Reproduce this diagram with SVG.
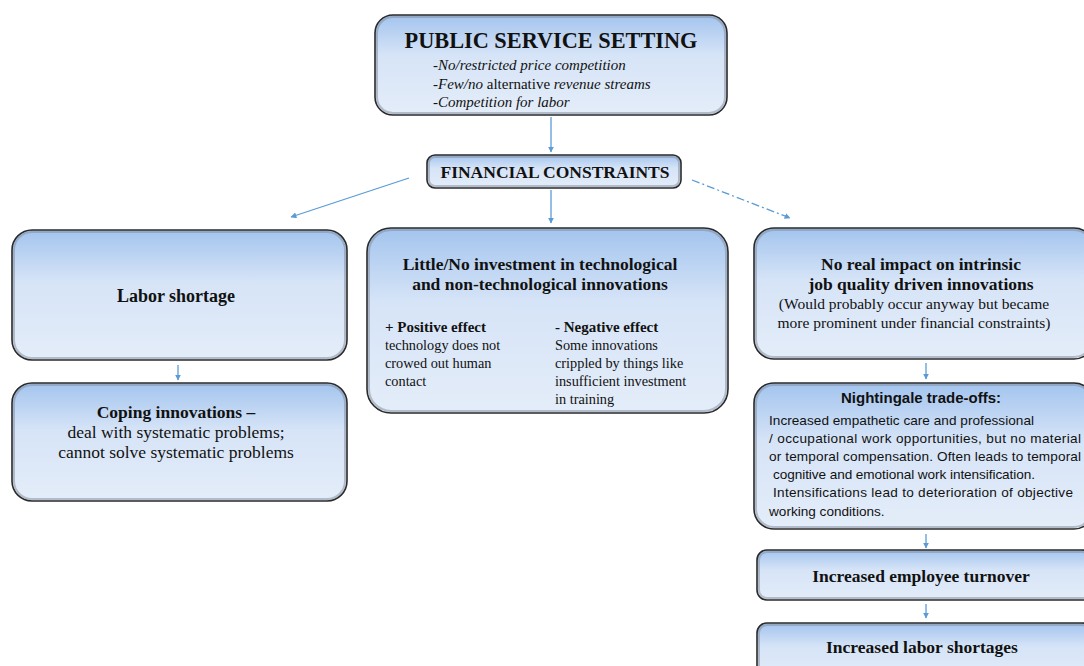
<svg xmlns="http://www.w3.org/2000/svg" width="1084" height="666" viewBox="0 0 1084 666">
<defs>
<linearGradient id="g" x1="0" y1="0" x2="0" y2="1">
<stop offset="0" stop-color="#a3c4ee"/>
<stop offset="0.4" stop-color="#d6e4f7"/>
<stop offset="1" stop-color="#e4edf9"/>
</linearGradient>
<marker id="ah" viewBox="0 0 10 10" refX="9" refY="5" markerWidth="6" markerHeight="6" orient="auto" markerUnits="userSpaceOnUse">
<path d="M0,0 L10,5 L0,10 z" fill="#5b9bd5"/>
</marker>
</defs>
<style>
.box{fill:url(#g);stroke:#2a2a2a;stroke-width:1.6}
.inner{fill:none;stroke:#7f8a99;stroke-width:2;opacity:0.5}
.conn{stroke:#5b9bd5;stroke-width:1.3;fill:none;marker-end:url(#ah)}
.tb{font-family:"Liberation Serif",serif;font-weight:bold;fill:#111}
.tn{font-family:"Liberation Serif",serif;fill:#111}
.ti{font-family:"Liberation Serif",serif;font-style:italic;fill:#111}
.sb{font-family:"Liberation Sans",sans-serif;font-weight:bold;fill:#111}
.sn{font-family:"Liberation Sans",sans-serif;fill:#111;font-size:13.6px}
</style>
<rect width="1084" height="666" fill="#fff"/>

<g id="connectors">
<line class="conn" x1="551" y1="117" x2="551" y2="152"/>
<line class="conn" x1="409" y1="178" x2="291" y2="217"/>
<line class="conn" x1="551" y1="190" x2="551" y2="223"/>
<line class="conn" x1="692" y1="180" x2="790" y2="218" stroke-dasharray="8,3,2,3"/>
<line class="conn" x1="178" y1="365" x2="178" y2="380"/>
<line class="conn" x1="926" y1="363" x2="926" y2="379"/>
<line class="conn" x1="926" y1="534" x2="926" y2="548"/>
<line class="conn" x1="926" y1="604" x2="926" y2="618"/>
</g>

<g id="public-service">
<rect class="box" x="375" y="15" width="352" height="100" rx="18"/>
<rect class="inner" x="377" y="17" width="348" height="96" rx="16"/>
<text class="tb" x="551" y="48" font-size="22.3" text-anchor="middle">PUBLIC SERVICE SETTING</text>
<text class="ti" x="433" y="70" font-size="15">-No/restricted price competition</text>
<text class="ti" x="433" y="89" font-size="15">-Few/no <tspan font-style="normal">alternative</tspan>  revenue streams</text>
<text class="ti" x="433" y="107" font-size="15">-Competition for labor</text>
</g>

<g id="financial">
<rect class="box" x="427" y="155" width="254" height="33" rx="8"/>
<rect class="inner" x="429" y="157" width="250" height="29" rx="6"/>
<text class="tb" x="555" y="178" font-size="17.5" text-anchor="middle">FINANCIAL CONSTRAINTS</text>
</g>

<g id="labor-shortage">
<rect class="box" x="12" y="230" width="335" height="130" rx="20"/>
<rect class="inner" x="14" y="232" width="331" height="126" rx="18"/>
<text class="tb" x="176" y="302" font-size="18" text-anchor="middle">Labor shortage</text>
</g>

<g id="coping">
<rect class="box" x="12" y="383" width="335" height="118" rx="20"/>
<rect class="inner" x="14" y="385" width="331" height="114" rx="18"/>
<text class="tb" x="176" y="418" font-size="17.5" text-anchor="middle">Coping innovations –</text>
<text class="tn" x="176" y="438" font-size="17.5" text-anchor="middle">deal with systematic problems;</text>
<text class="tn" x="176" y="458" font-size="17.5" text-anchor="middle">cannot solve systematic problems</text>
</g>

<g id="investment">
<rect class="box" x="367" y="228" width="361" height="185" rx="24"/>
<rect class="inner" x="369" y="230" width="357" height="181" rx="22"/>
<text class="tb" x="540" y="270" font-size="17.5" text-anchor="middle">Little/No investment in technological</text>
<text class="tb" x="540" y="290" font-size="17.5" text-anchor="middle">and non-technological innovations</text>
<text class="tb" x="385" y="332" font-size="15">+ Positive effect</text>
<text class="tn" x="385" y="350" font-size="14.3">technology  does not</text>
<text class="tn" x="385" y="368" font-size="14.3">crowed out human</text>
<text class="tn" x="385" y="386" font-size="14.3">contact</text>
<text class="tb" x="555" y="332" font-size="15">- Negative effect</text>
<text class="tn" x="555" y="350" font-size="14.3">Some innovations</text>
<text class="tn" x="555" y="368" font-size="14.3">crippled by things like</text>
<text class="tn" x="555" y="386" font-size="14.3">insufficient   investment</text>
<text class="tn" x="555" y="404" font-size="14.3">in training</text>
</g>

<g id="no-real-impact">
<rect class="box" x="754" y="228" width="340" height="131" rx="20"/>
<rect class="inner" x="756" y="230" width="336" height="127" rx="18"/>
<text class="tb" x="921" y="270" font-size="17.5" text-anchor="middle">No real impact on intrinsic</text>
<text class="tb" x="921" y="290" font-size="17.5" text-anchor="middle">job quality driven innovations</text>
<text class="tn" x="914" y="309" font-size="15.5" text-anchor="middle">(Would probably occur anyway  but became</text>
<text class="tn" x="914" y="328" font-size="15.5" text-anchor="middle">more prominent  under financial  constraints)</text>
</g>

<g id="nightingale">
<rect class="box" x="754" y="383" width="340" height="146" rx="20"/>
<rect class="inner" x="756" y="385" width="336" height="142" rx="18"/>
<text class="sb" x="921" y="403" font-size="15" text-anchor="middle">Nightingale trade-offs:</text>
<text class="sn" x="769" y="425" textLength="265">Increased empathetic care and professional</text>
<text class="sn" x="769" y="443" textLength="312">/ occupational work opportunities, but no material</text>
<text class="sn" x="769" y="461" textLength="312">or temporal compensation. Often leads to temporal</text>
<text class="sn" x="773" y="479" textLength="262">cognitive and emotional work intensification.</text>
<text class="sn" x="773" y="497" textLength="300">Intensifications lead to deterioration of objective</text>
<text class="sn" x="769" y="516">working conditions.</text>
</g>

<g id="turnover">
<rect class="box" x="757" y="550" width="335" height="50" rx="10"/>
<rect class="inner" x="759" y="552" width="331" height="46" rx="8"/>
<text class="tb" x="921" y="582" font-size="17.5" text-anchor="middle">Increased employee turnover</text>
</g>

<g id="labor-shortages">
<rect class="box" x="757" y="623" width="335" height="60" rx="10"/>
<rect class="inner" x="759" y="625" width="331" height="56" rx="8"/>
<text class="tb" x="922" y="653" font-size="17.5" text-anchor="middle">Increased labor shortages</text>
</g>
</svg>
